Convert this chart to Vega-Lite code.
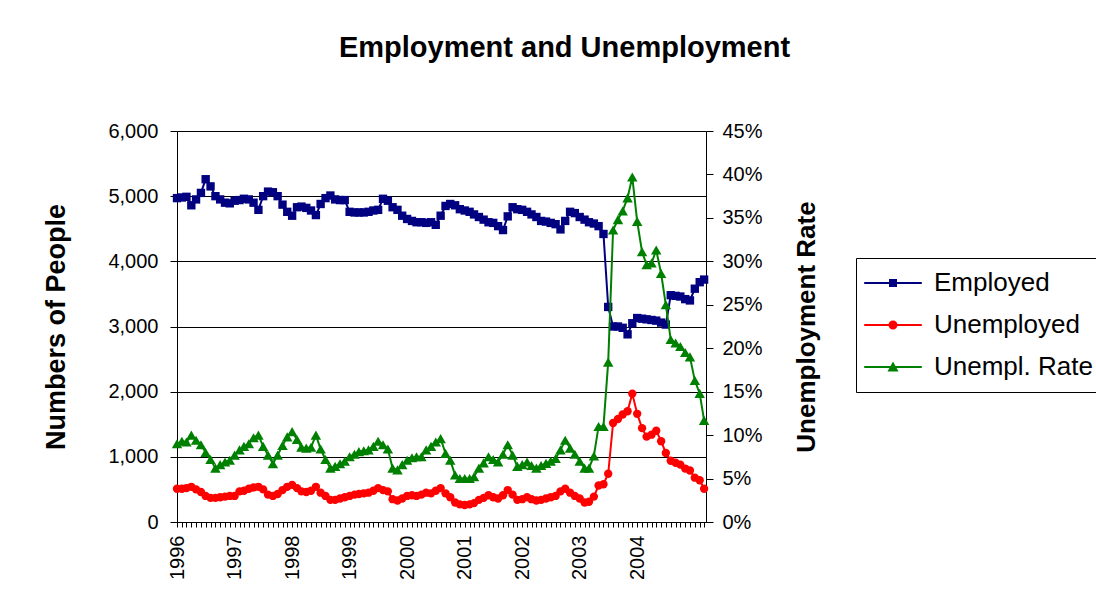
{
  "$schema": "https://vega.github.io/schema/vega-lite/v6.json",
  "width": 529,
  "height": 391,
  "autosize": {"type": "none"},
  "padding": {"left": 177, "top": 131, "right": 390, "bottom": 83},
  "background": "white",
  "config": {
    "view": {"stroke": null},
    "font": "Liberation Sans",
    "axis": {"labelFont": "Liberation Sans", "titleFont": "Liberation Sans", "labelColor": "black", "titleColor": "black", "domainColor": "black", "tickColor": "black"}
  },
  "title": {"text": "Employment and Unemployment", "font": "Liberation Sans", "fontSize": 29, "fontWeight": "bold", "color": "black", "anchor": "middle", "frame": "group", "dx": 123, "offset": 58},
  "data": {"values": [
    {"date":"1996-01-01","Employed":4970,"Unemployed":510,"Rate":9.0},
    {"date":"1996-02-01","Employed":4980,"Unemployed":510,"Rate":9.3},
    {"date":"1996-03-01","Employed":4990,"Unemployed":520,"Rate":9.2},
    {"date":"1996-04-01","Employed":4860,"Unemployed":540,"Rate":10.0},
    {"date":"1996-05-01","Employed":4950,"Unemployed":500,"Rate":9.4},
    {"date":"1996-06-01","Employed":5050,"Unemployed":460,"Rate":8.9},
    {"date":"1996-07-01","Employed":5260,"Unemployed":400,"Rate":8.0},
    {"date":"1996-08-01","Employed":5150,"Unemployed":370,"Rate":7.2},
    {"date":"1996-09-01","Employed":5000,"Unemployed":370,"Rate":6.2},
    {"date":"1996-10-01","Employed":4950,"Unemployed":380,"Rate":6.6},
    {"date":"1996-11-01","Employed":4900,"Unemployed":390,"Rate":6.9},
    {"date":"1996-12-01","Employed":4890,"Unemployed":400,"Rate":7.1},
    {"date":"1997-01-01","Employed":4930,"Unemployed":400,"Rate":7.7},
    {"date":"1997-02-01","Employed":4940,"Unemployed":470,"Rate":8.3},
    {"date":"1997-03-01","Employed":4960,"Unemployed":480,"Rate":8.7},
    {"date":"1997-04-01","Employed":4950,"Unemployed":510,"Rate":9.0},
    {"date":"1997-05-01","Employed":4900,"Unemployed":530,"Rate":9.7},
    {"date":"1997-06-01","Employed":4790,"Unemployed":540,"Rate":10.0},
    {"date":"1997-07-01","Employed":5000,"Unemployed":500,"Rate":8.7},
    {"date":"1997-08-01","Employed":5070,"Unemployed":420,"Rate":7.7},
    {"date":"1997-09-01","Employed":5060,"Unemployed":400,"Rate":6.7},
    {"date":"1997-10-01","Employed":5000,"Unemployed":430,"Rate":7.7},
    {"date":"1997-11-01","Employed":4870,"Unemployed":490,"Rate":8.8},
    {"date":"1997-12-01","Employed":4760,"Unemployed":540,"Rate":9.8},
    {"date":"1998-01-01","Employed":4700,"Unemployed":570,"Rate":10.4},
    {"date":"1998-02-01","Employed":4830,"Unemployed":520,"Rate":9.5},
    {"date":"1998-03-01","Employed":4840,"Unemployed":470,"Rate":8.6},
    {"date":"1998-04-01","Employed":4820,"Unemployed":460,"Rate":8.5},
    {"date":"1998-05-01","Employed":4780,"Unemployed":480,"Rate":8.6},
    {"date":"1998-06-01","Employed":4710,"Unemployed":540,"Rate":10.0},
    {"date":"1998-07-01","Employed":4880,"Unemployed":450,"Rate":8.4},
    {"date":"1998-08-01","Employed":4970,"Unemployed":400,"Rate":7.2},
    {"date":"1998-09-01","Employed":5010,"Unemployed":340,"Rate":6.2},
    {"date":"1998-10-01","Employed":4950,"Unemployed":340,"Rate":6.4},
    {"date":"1998-11-01","Employed":4940,"Unemployed":360,"Rate":6.7},
    {"date":"1998-12-01","Employed":4940,"Unemployed":380,"Rate":7.0},
    {"date":"1999-01-01","Employed":4760,"Unemployed":400,"Rate":7.5},
    {"date":"1999-02-01","Employed":4750,"Unemployed":420,"Rate":7.8},
    {"date":"1999-03-01","Employed":4750,"Unemployed":430,"Rate":8.1},
    {"date":"1999-04-01","Employed":4750,"Unemployed":440,"Rate":8.2},
    {"date":"1999-05-01","Employed":4760,"Unemployed":450,"Rate":8.3},
    {"date":"1999-06-01","Employed":4780,"Unemployed":480,"Rate":8.7},
    {"date":"1999-07-01","Employed":4790,"Unemployed":520,"Rate":9.3},
    {"date":"1999-08-01","Employed":4960,"Unemployed":490,"Rate":8.9},
    {"date":"1999-09-01","Employed":4930,"Unemployed":470,"Rate":8.4},
    {"date":"1999-10-01","Employed":4830,"Unemployed":350,"Rate":6.2},
    {"date":"1999-11-01","Employed":4790,"Unemployed":330,"Rate":6.0},
    {"date":"1999-12-01","Employed":4700,"Unemployed":360,"Rate":6.6},
    {"date":"2000-01-01","Employed":4650,"Unemployed":400,"Rate":7.1},
    {"date":"2000-02-01","Employed":4620,"Unemployed":410,"Rate":7.4},
    {"date":"2000-03-01","Employed":4600,"Unemployed":400,"Rate":7.5},
    {"date":"2000-04-01","Employed":4600,"Unemployed":420,"Rate":7.5},
    {"date":"2000-05-01","Employed":4590,"Unemployed":450,"Rate":8.3},
    {"date":"2000-06-01","Employed":4600,"Unemployed":440,"Rate":8.7},
    {"date":"2000-07-01","Employed":4560,"Unemployed":480,"Rate":9.2},
    {"date":"2000-08-01","Employed":4700,"Unemployed":520,"Rate":9.6},
    {"date":"2000-09-01","Employed":4850,"Unemployed":440,"Rate":7.9},
    {"date":"2000-10-01","Employed":4880,"Unemployed":380,"Rate":7.1},
    {"date":"2000-11-01","Employed":4860,"Unemployed":300,"Rate":5.4},
    {"date":"2000-12-01","Employed":4800,"Unemployed":270,"Rate":5.0},
    {"date":"2001-01-01","Employed":4780,"Unemployed":260,"Rate":5.0},
    {"date":"2001-02-01","Employed":4760,"Unemployed":270,"Rate":5.0},
    {"date":"2001-03-01","Employed":4720,"Unemployed":290,"Rate":5.2},
    {"date":"2001-04-01","Employed":4680,"Unemployed":340,"Rate":6.2},
    {"date":"2001-05-01","Employed":4640,"Unemployed":370,"Rate":6.8},
    {"date":"2001-06-01","Employed":4600,"Unemployed":410,"Rate":7.5},
    {"date":"2001-07-01","Employed":4590,"Unemployed":380,"Rate":7.2},
    {"date":"2001-08-01","Employed":4540,"Unemployed":360,"Rate":6.9},
    {"date":"2001-09-01","Employed":4480,"Unemployed":410,"Rate":7.8},
    {"date":"2001-10-01","Employed":4690,"Unemployed":490,"Rate":8.9},
    {"date":"2001-11-01","Employed":4830,"Unemployed":420,"Rate":7.7},
    {"date":"2001-12-01","Employed":4800,"Unemployed":340,"Rate":6.4},
    {"date":"2002-01-01","Employed":4790,"Unemployed":350,"Rate":6.6},
    {"date":"2002-02-01","Employed":4760,"Unemployed":380,"Rate":6.9},
    {"date":"2002-03-01","Employed":4720,"Unemployed":350,"Rate":6.5},
    {"date":"2002-04-01","Employed":4680,"Unemployed":330,"Rate":6.2},
    {"date":"2002-05-01","Employed":4620,"Unemployed":340,"Rate":6.5},
    {"date":"2002-06-01","Employed":4610,"Unemployed":360,"Rate":6.75},
    {"date":"2002-07-01","Employed":4590,"Unemployed":380,"Rate":7.0},
    {"date":"2002-08-01","Employed":4570,"Unemployed":400,"Rate":7.3},
    {"date":"2002-09-01","Employed":4490,"Unemployed":470,"Rate":8.3},
    {"date":"2002-10-01","Employed":4620,"Unemployed":510,"Rate":9.4},
    {"date":"2002-11-01","Employed":4760,"Unemployed":450,"Rate":8.5},
    {"date":"2002-12-01","Employed":4740,"Unemployed":400,"Rate":7.8},
    {"date":"2003-01-01","Employed":4680,"Unemployed":360,"Rate":7.0},
    {"date":"2003-02-01","Employed":4640,"Unemployed":300,"Rate":6.2},
    {"date":"2003-03-01","Employed":4600,"Unemployed":310,"Rate":6.2},
    {"date":"2003-04-01","Employed":4580,"Unemployed":390,"Rate":7.6},
    {"date":"2003-05-01","Employed":4540,"Unemployed":560,"Rate":11.0},
    {"date":"2003-06-01","Employed":4420,"Unemployed":580,"Rate":11.0},
    {"date":"2003-07-01","Employed":3300,"Unemployed":740,"Rate":18.4},
    {"date":"2003-08-01","Employed":3000,"Unemployed":1520,"Rate":33.6},
    {"date":"2003-09-01","Employed":3000,"Unemployed":1580,"Rate":34.8},
    {"date":"2003-10-01","Employed":2980,"Unemployed":1650,"Rate":35.8},
    {"date":"2003-11-01","Employed":2880,"Unemployed":1700,"Rate":37.3},
    {"date":"2003-12-01","Employed":3050,"Unemployed":1970,"Rate":39.7},
    {"date":"2004-01-01","Employed":3130,"Unemployed":1660,"Rate":34.6},
    {"date":"2004-02-01","Employed":3120,"Unemployed":1440,"Rate":31.1},
    {"date":"2004-03-01","Employed":3110,"Unemployed":1310,"Rate":29.6},
    {"date":"2004-04-01","Employed":3100,"Unemployed":1340,"Rate":29.8},
    {"date":"2004-05-01","Employed":3090,"Unemployed":1400,"Rate":31.3},
    {"date":"2004-06-01","Employed":3060,"Unemployed":1240,"Rate":28.6},
    {"date":"2004-07-01","Employed":3030,"Unemployed":1060,"Rate":25.0},
    {"date":"2004-08-01","Employed":3480,"Unemployed":940,"Rate":21.0},
    {"date":"2004-09-01","Employed":3470,"Unemployed":910,"Rate":20.6},
    {"date":"2004-10-01","Employed":3460,"Unemployed":880,"Rate":20.2},
    {"date":"2004-11-01","Employed":3420,"Unemployed":820,"Rate":19.5},
    {"date":"2004-12-01","Employed":3400,"Unemployed":790,"Rate":19.0},
    {"date":"2005-01-01","Employed":3580,"Unemployed":680,"Rate":16.3},
    {"date":"2005-02-01","Employed":3680,"Unemployed":640,"Rate":14.8},
    {"date":"2005-03-01","Employed":3720,"Unemployed":510,"Rate":11.7}
  ]},
  "encoding": {
    "x": {
      "field": "date", "type": "temporal",
      "scale": {"type": "utc", "domain": [{"year": 1996, "month": 1, "date": 1, "utc": true}, {"year": 2005, "month": 3, "date": 13, "utc": true}]},
      "axis": {
        "title": null, "grid": false, "tickCount": {"interval": "month", "step": 1},
        "labelExpr": "utcmonth(datum.value) == 0 && utcyear(datum.value) < 2005 ? utcFormat(datum.value, '%Y') : ''",
        "labelAngle": -90, "labelFontSize": 20, "labelPadding": 8, "tickSize": 5,
        "labelOverlap": false, "labelBound": false, "labelFlush": false
      }
    }
  },
  "layer": [
    {
      "transform": [{"fold": ["Employed", "Unemployed"], "as": ["series", "value"]}],
      "encoding": {
        "y": {
          "field": "value", "type": "quantitative",
          "scale": {"domain": [0, 6000], "nice": false},
          "axis": {
            "title": "Numbers of People", "values": [0, 1000, 2000, 3000, 4000, 5000, 6000], "format": ",d",
            "grid": true, "gridColor": "black", "gridOpacity": 1, "gridWidth": 1,
            "labelFontSize": 20, "tickSize": 7, "labelPadding": 12,
            "titleFontSize": 27, "titleFontWeight": "bold", "titlePadding": 37
          }
        },
        "color": {
          "field": "series", "type": "nominal",
          "scale": {"domain": ["Employed", "Unemployed", "Unempl. Rate"], "range": ["#000080", "#FF0000", "#008000"]},
          "legend": {
            "orient": "none", "legendX": 679, "legendY": 127, "title": null,
            "labelFont": "Liberation Sans", "labelFontSize": 26, "labelColor": "black", "labelLimit": 400,
            "symbolSize": 576, "labelOffset": 40, "rowPadding": 16, "padding": 12,
            "strokeColor": "black", "fillColor": "white",
            "encode": {
              "symbols": {
                "update": {
                  "shape": {"signal": "datum.value === 'Employed' ? 'M-1.4,-0.09H3.4V0.09H-1.4Z M0.667,-0.333H1.333V0.333H0.667Z' : datum.value === 'Unemployed' ? 'M-1.4,-0.09H3.4V0.09H-1.4Z M0.625,0A0.375,0.375,0,1,1,1.375,0A0.375,0.375,0,1,1,0.625,0Z' : 'M-1.4,-0.09H3.4V0.09H-1.4Z M1,-0.45L1.46,0.38H0.54Z'"},
                  "fill": {"signal": "datum.value === 'Employed' ? '#000080' : datum.value === 'Unemployed' ? '#FF0000' : '#008000'"},
                  "fillOpacity": {"value": 1},
                  "opacity": {"value": 1},
                  "strokeWidth": {"value": 0}
                }
              }
            }
          }
        }
      },
      "layer": [
        {"mark": {"type": "line", "strokeWidth": 2}},
        {
          "mark": {"type": "point", "filled": true, "opacity": 1, "size": 70},
          "encoding": {
            "shape": {"field": "series", "type": "nominal", "scale": {"domain": ["Employed", "Unemployed"], "range": ["square", "circle"]}, "legend": null}
          }
        }
      ]
    },
    {
      "encoding": {
        "y": {
          "field": "Rate", "type": "quantitative",
          "scale": {"domain": [0, 45], "nice": false},
          "axis": {
            "orient": "right", "title": "Unemployment Rate", "values": [0, 5, 10, 15, 20, 25, 30, 35, 40, 45],
            "labelExpr": "datum.value + '%'", "grid": false,
            "labelFontSize": 20, "tickSize": 7, "labelPadding": 9,
            "titleFontSize": 26, "titleFontWeight": "bold", "titleAngle": 270, "titleBaseline": "top", "titlePadding": 31
          }
        },
        "color": {"datum": "Unempl. Rate"}
      },
      "layer": [
        {"mark": {"type": "line", "strokeWidth": 2}},
        {"mark": {"type": "point", "filled": true, "opacity": 1, "size": 110, "shape": "triangle-up"}}
      ]
    }
  ],
  "resolve": {"scale": {"y": "independent"}}
}
